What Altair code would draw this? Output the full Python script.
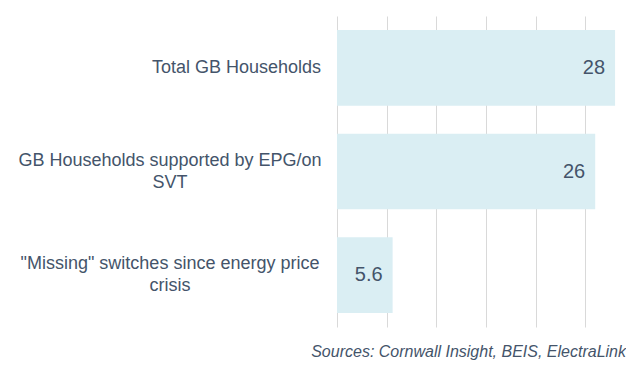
import altair as alt
import pandas as pd

categories = [
    "Total GB Households",
    "GB Households supported by EPG/on\nSVT",
    "\"Missing\" switches since energy price\ncrisis",
]
values = [28, 26, 5.6]
value_labels = ["28", "26", "5.6"]
x_ticks = [0, 5, 10, 15, 20, 25]
source_note = "Sources: Cornwall Insight, BEIS, ElectraLink"

FONT = "Liberation Sans"
TEXT = "#44546A"

df = pd.DataFrame({"category": categories, "value": values, "label": value_labels})

y_enc = alt.Y(
    "category:N",
    sort=categories,
    scale=alt.Scale(paddingInner=0.27, paddingOuter=0.135),
    axis=None,
)
x_enc = alt.X(
    "value:Q",
    scale=alt.Scale(domain=[0, 29.1], nice=False, zero=True),
    axis=alt.Axis(
        values=x_ticks,
        labels=False,
        ticks=False,
        domain=False,
        grid=True,
        gridColor="#D9D9D9",
        gridWidth=1,
        title=None,
    ),
)

base = alt.Chart(df)

bars = base.mark_bar(color="#DAEEF3").encode(x=x_enc, y=y_enc)

value_text = base.mark_text(
    align="right", baseline="middle", dx=-10, fontSize=20, font=FONT, color=TEXT
).encode(x=alt.X("value:Q"), y=y_enc, text="label:N")

single_labels = base.transform_filter(
    "indexof(datum.category, '\\n') < 0"
).mark_text(
    align="right", baseline="middle", fontSize=18, font=FONT, color=TEXT, lineBreak="\n"
).encode(x=alt.value(-16), y=y_enc, text="category:N")

multi_labels = base.transform_filter(
    "indexof(datum.category, '\\n') >= 0"
).mark_text(
    align="center", baseline="middle", fontSize=18, font=FONT, color=TEXT,
    lineBreak="\n", lineHeight=22, dy=-11,
).encode(x=alt.value(-167), y=y_enc, text="category:N")

chart = alt.layer(bars, value_text, single_labels, multi_labels).properties(
    width=289,
    height=311,
    autosize=alt.AutoSizeParams(type="none"),
    padding={"left": 329, "top": 8, "right": 0, "bottom": 40},
    title=alt.TitleParams(
        source_note,
        orient="bottom",
        anchor="end",
        frame="group",
        baseline="top",
        offset=17,
        fontSize=16,
        fontStyle="italic",
        fontWeight="normal",
        font=FONT,
        color=TEXT,
    ),
).configure_view(stroke=None)

chart.save("out.html", embed_options={"renderer": "svg", "actions": False})
